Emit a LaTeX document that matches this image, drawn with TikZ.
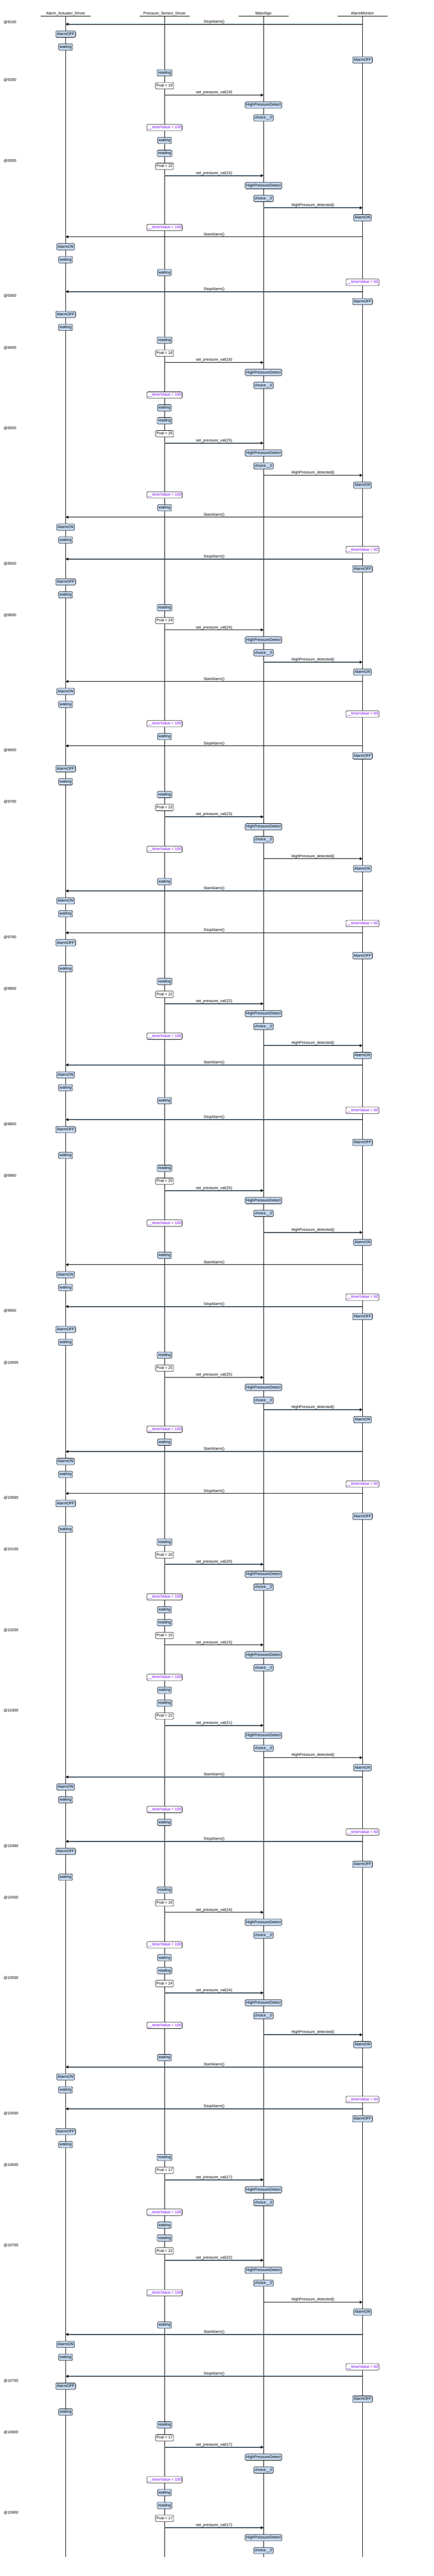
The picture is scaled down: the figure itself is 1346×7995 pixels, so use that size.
\documentclass[tikz,border=0pt]{standalone}
\usepackage{fontspec}
\setmainfont{Liberation Sans}
\usetikzlibrary{arrows.meta}
\definecolor{stateBlue}{RGB}{197,217,241}
\definecolor{timerViolet}{RGB}{127,0,255}
\definecolor{msgShade}{RGB}{120,160,190}
\newcommand{\tmr}[1]{\_\_timerValue = #1}
\newcommand{\pvset}[1]{set\_pressure\_val(#1)}
\newcommand{\hpsig}{HighPressure\_detected()}
\newcommand{\chz}{choice\_\_0}
\newcommand{\hpst}{HighPressureDetect}

\begin{document}
\begin{tikzpicture}[x=0.75pt, y=-0.75pt, line width=0.75pt,
    every node/.style={font=\fontsize{9}{10}\selectfont},
    headbox/.style={anchor=south, minimum width=116pt, inner xsep=0pt, inner ysep=1.5pt, text height=7pt, text depth=2pt},
    basebox/.style={draw, rounded corners=2.25pt, minimum height=15pt, inner xsep=2.25pt, inner ysep=0pt, text height=7pt, text depth=2pt},
    statebox/.style={basebox, fill=stateBlue},
    valbox/.style={basebox, fill=white},
    timerbox/.style={basebox, fill=white, text=timerViolet},
    stampnode/.style={anchor=west, inner sep=0pt},
    msgline/.style={-{Triangle[length=6.5pt, width=6.5pt]}},
    msgshadow/.style={msgShade, shorten >=6.5pt}]

\fill[white] (0,0) rectangle (1346,7995);
\useasboundingbox (0,0) rectangle (1346,7995);

% lifeline heads
\node[headbox] (act) at (203.5,50) {Alarm\_Actuator\_Driver};
\node[headbox] (sen) at (510.5,50) {Pressure\_Sensor\_Driver};
\node[headbox] (alg) at (817.5,50) {MainAlgo};
\node[headbox] (mon) at (1124.5,50) {AlarmMonitor};

\foreach \h in {act,sen,alg,mon} {
    \coordinate (\h-end) at (\h |- 0,7936);
    \draw (\h.south west) -- (\h.south east);
    \draw (\h.south) -- (\h-end);
}

% time stamps
\foreach \y/\t in {69/9160, 249/9200, 499/9300, 919/9360, 1079/9400, 1329/9500,
    1749/9560, 1909/9600, 2329/9660, 2489/9700, 2909/9760, 3069/9800, 3489/9860,
    3649/9900, 4069/9960, 4229/10000, 4649/10060, 4809/10100, 5059/10200,
    5309/10300, 5729/10360, 5889/10400, 6139/10500, 6559/10560, 6719/10600,
    6969/10700, 7389/10760, 7549/10800, 7799/10900}
    \node[stampnode] (t\t) at (11,\y) {@\t};

% messages
\foreach \y/\from/\to/\t [count=\i] in {
    75/mon/act/StopAlarm(), 295/sen/alg/\pvset{19}, 545/sen/alg/\pvset{22},
    645/alg/mon/\hpsig, 735/mon/act/StartAlarm(), 905/mon/act/StopAlarm(),
    1125/sen/alg/\pvset{18}, 1375/sen/alg/\pvset{25}, 1475/alg/mon/\hpsig,
    1605/mon/act/StartAlarm(), 1735/mon/act/StopAlarm(), 1955/sen/alg/\pvset{24},
    2055/alg/mon/\hpsig, 2115/mon/act/StartAlarm(), 2315/mon/act/StopAlarm(),
    2535/sen/alg/\pvset{23}, 2665/alg/mon/\hpsig, 2765/mon/act/StartAlarm(),
    2895/mon/act/StopAlarm(), 3115/sen/alg/\pvset{22}, 3245/alg/mon/\hpsig,
    3305/mon/act/StartAlarm(), 3475/mon/act/StopAlarm(), 3695/sen/alg/\pvset{25},
    3825/alg/mon/\hpsig, 3925/mon/act/StartAlarm(), 4055/mon/act/StopAlarm(),
    4275/sen/alg/\pvset{25}, 4375/alg/mon/\hpsig, 4505/mon/act/StartAlarm(),
    4635/mon/act/StopAlarm(), 4855/sen/alg/\pvset{20}, 5105/sen/alg/\pvset{15},
    5355/sen/alg/\pvset{21}, 5455/alg/mon/\hpsig, 5515/mon/act/StartAlarm(),
    5715/mon/act/StopAlarm(), 5935/sen/alg/\pvset{16}, 6185/sen/alg/\pvset{24},
    6315/alg/mon/\hpsig, 6415/mon/act/StartAlarm(), 6545/mon/act/StopAlarm(),
    6765/sen/alg/\pvset{17}, 7015/sen/alg/\pvset{22}, 7145/alg/mon/\hpsig,
    7245/mon/act/StartAlarm(), 7375/mon/act/StopAlarm(), 7595/sen/alg/\pvset{17},
    7845/sen/alg/\pvset{17}} {
    \coordinate (m\i-a) at (\from |- 0,\y);
    \coordinate (m\i-b) at (\to |- 0,\y);
    \draw[msgshadow] ([yshift=0.75pt]m\i-a) -- ([yshift=0.75pt]m\i-b);
    \draw[msgline] (m\i-a) -- node[above, inner sep=0.75pt, text height=7pt, text depth=2pt] (l\i) {\t} (m\i-b);
}

% states, values and timers
\foreach \y/\l/\s/\t [count=\i] in {
    106/act/statebox/AlarmOFF, 146/act/statebox/waiting, 186/mon/statebox/AlarmOFF,
    226/sen/statebox/reading, 266/sen/valbox/Pval = 19, 326/alg/statebox/\hpst,
    366/alg/statebox/\chz, 396/sen/timerbox/\tmr{100},
    436/sen/statebox/waiting, 476/sen/statebox/reading, 516/sen/valbox/Pval = 22,
    576/alg/statebox/\hpst, 616/alg/statebox/\chz, 676/mon/statebox/AlarmON,
    706/sen/timerbox/\tmr{100}, 766/act/statebox/AlarmON, 806/act/statebox/waiting,
    846/sen/statebox/waiting, 876/mon/timerbox/\tmr{60}, 936/mon/statebox/AlarmOFF,
    976/act/statebox/AlarmOFF, 1016/act/statebox/waiting, 1056/sen/statebox/reading,
    1096/sen/valbox/Pval = 18, 1156/alg/statebox/\hpst, 1196/alg/statebox/\chz,
    1226/sen/timerbox/\tmr{100}, 1266/sen/statebox/waiting, 1306/sen/statebox/reading,
    1346/sen/valbox/Pval = 25, 1406/alg/statebox/\hpst, 1446/alg/statebox/\chz,
    1506/mon/statebox/AlarmON, 1536/sen/timerbox/\tmr{100}, 1576/sen/statebox/waiting,
    1636/act/statebox/AlarmON, 1676/act/statebox/waiting, 1706/mon/timerbox/\tmr{60},
    1766/mon/statebox/AlarmOFF, 1806/act/statebox/AlarmOFF, 1846/act/statebox/waiting,
    1886/sen/statebox/reading, 1926/sen/valbox/Pval = 24, 1986/alg/statebox/\hpst,
    2026/alg/statebox/\chz, 2086/mon/statebox/AlarmON, 2146/act/statebox/AlarmON,
    2186/act/statebox/waiting, 2216/mon/timerbox/\tmr{60}, 2246/sen/timerbox/\tmr{100},
    2286/sen/statebox/waiting, 2346/mon/statebox/AlarmOFF, 2386/act/statebox/AlarmOFF,
    2426/act/statebox/waiting, 2466/sen/statebox/reading, 2506/sen/valbox/Pval = 23,
    2566/alg/statebox/\hpst, 2606/alg/statebox/\chz, 2636/sen/timerbox/\tmr{100},
    2696/mon/statebox/AlarmON, 2736/sen/statebox/waiting, 2796/act/statebox/AlarmON,
    2836/act/statebox/waiting, 2866/mon/timerbox/\tmr{60}, 2926/act/statebox/AlarmOFF,
    2966/mon/statebox/AlarmOFF, 3006/act/statebox/waiting, 3046/sen/statebox/reading,
    3086/sen/valbox/Pval = 22, 3146/alg/statebox/\hpst, 3186/alg/statebox/\chz,
    3216/sen/timerbox/\tmr{100}, 3276/mon/statebox/AlarmON, 3336/act/statebox/AlarmON,
    3376/act/statebox/waiting, 3416/sen/statebox/waiting, 3446/mon/timerbox/\tmr{60},
    3506/act/statebox/AlarmOFF, 3546/mon/statebox/AlarmOFF, 3586/act/statebox/waiting,
    3626/sen/statebox/reading, 3666/sen/valbox/Pval = 25, 3726/alg/statebox/\hpst,
    3766/alg/statebox/\chz, 3796/sen/timerbox/\tmr{100}, 3856/mon/statebox/AlarmON,
    3896/sen/statebox/waiting, 3956/act/statebox/AlarmON, 3996/act/statebox/waiting,
    4026/mon/timerbox/\tmr{60}, 4086/mon/statebox/AlarmOFF, 4126/act/statebox/AlarmOFF,
    4166/act/statebox/waiting, 4206/sen/statebox/reading, 4246/sen/valbox/Pval = 25,
    4306/alg/statebox/\hpst, 4346/alg/statebox/\chz, 4406/mon/statebox/AlarmON,
    4436/sen/timerbox/\tmr{100}, 4476/sen/statebox/waiting, 4536/act/statebox/AlarmON,
    4576/act/statebox/waiting, 4606/mon/timerbox/\tmr{60}, 4666/act/statebox/AlarmOFF,
    4706/mon/statebox/AlarmOFF, 4746/act/statebox/waiting, 4786/sen/statebox/reading,
    4826/sen/valbox/Pval = 20, 4886/alg/statebox/\hpst, 4926/alg/statebox/\chz,
    4956/sen/timerbox/\tmr{100}, 4996/sen/statebox/waiting, 5036/sen/statebox/reading,
    5076/sen/valbox/Pval = 15, 5136/alg/statebox/\hpst, 5176/alg/statebox/\chz,
    5206/sen/timerbox/\tmr{100}, 5246/sen/statebox/waiting, 5286/sen/statebox/reading,
    5326/sen/valbox/Pval = 21, 5386/alg/statebox/\hpst, 5426/alg/statebox/\chz,
    5486/mon/statebox/AlarmON, 5546/act/statebox/AlarmON, 5586/act/statebox/waiting,
    5616/sen/timerbox/\tmr{100}, 5656/sen/statebox/waiting, 5686/mon/timerbox/\tmr{60},
    5746/act/statebox/AlarmOFF, 5786/mon/statebox/AlarmOFF, 5826/act/statebox/waiting,
    5866/sen/statebox/reading, 5906/sen/valbox/Pval = 16, 5966/alg/statebox/\hpst,
    6006/alg/statebox/\chz, 6036/sen/timerbox/\tmr{100}, 6076/sen/statebox/waiting,
    6116/sen/statebox/reading, 6156/sen/valbox/Pval = 24, 6216/alg/statebox/\hpst,
    6256/alg/statebox/\chz, 6286/sen/timerbox/\tmr{100}, 6346/mon/statebox/AlarmON,
    6386/sen/statebox/waiting, 6446/act/statebox/AlarmON, 6486/act/statebox/waiting,
    6516/mon/timerbox/\tmr{60}, 6576/mon/statebox/AlarmOFF, 6616/act/statebox/AlarmOFF,
    6656/act/statebox/waiting, 6696/sen/statebox/reading, 6736/sen/valbox/Pval = 17,
    6796/alg/statebox/\hpst, 6836/alg/statebox/\chz, 6866/sen/timerbox/\tmr{100},
    6906/sen/statebox/waiting, 6946/sen/statebox/reading, 6986/sen/valbox/Pval = 22,
    7046/alg/statebox/\hpst, 7086/alg/statebox/\chz, 7116/sen/timerbox/\tmr{100},
    7176/mon/statebox/AlarmON, 7216/sen/statebox/waiting, 7276/act/statebox/AlarmON,
    7316/act/statebox/waiting, 7346/mon/timerbox/\tmr{60}, 7406/act/statebox/AlarmOFF,
    7446/mon/statebox/AlarmOFF, 7486/act/statebox/waiting, 7526/sen/statebox/reading,
    7566/sen/valbox/Pval = 17, 7626/alg/statebox/\hpst, 7666/alg/statebox/\chz,
    7696/sen/timerbox/\tmr{100}, 7736/sen/statebox/waiting, 7776/sen/statebox/reading,
    7816/sen/valbox/Pval = 17, 7876/alg/statebox/\hpst, 7916/alg/statebox/\chz}
    \node[\s] (n\i) at (\l |- 0,\y) {\t};
\end{tikzpicture}
\end{document}
